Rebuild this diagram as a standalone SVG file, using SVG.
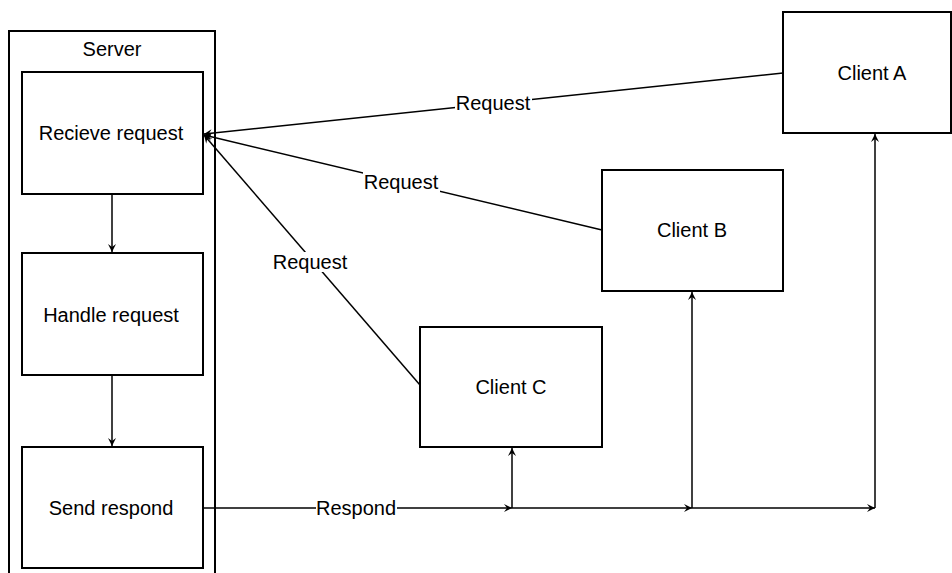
<svg xmlns="http://www.w3.org/2000/svg" width="952" height="573" viewBox="0 0 952 573">
<style>
.box{fill:#fff;stroke:#000;stroke-width:2}
.ln{fill:none;stroke:#000;stroke-width:1.5}
.t{font-family:"Liberation Sans",Arial,sans-serif;font-size:20px;fill:#000;text-anchor:middle;dominant-baseline:central}
.bg{fill:#fff}
</style>
<defs>
<marker id="ah" markerWidth="10" markerHeight="10" refX="9" refY="5" orient="auto" markerUnits="userSpaceOnUse">
<path d="M1,1 L9,5 L1,9 L4,5 Z" fill="#000"/>
</marker>
</defs>
<rect width="952" height="573" fill="#fff"/>
<g id="server">
<path class="box" d="M9,575 L9,31 L215,31 L215,575"/>
<text class="t" x="112" y="49">Server</text>
</g>
<g id="recieve"><rect class="box" x="22" y="72" width="181" height="122"/><text class="t" x="111" y="133">Recieve request</text></g>
<g id="handle"><rect class="box" x="22" y="253" width="181" height="122"/><text class="t" x="111" y="315">Handle request</text></g>
<g id="send"><rect class="box" x="22" y="447" width="181" height="121"/><text class="t" x="111" y="508">Send respond</text></g>
<g id="clientA"><rect class="box" x="783" y="12" width="168" height="121"/><text class="t" x="872" y="73">Client A</text></g>
<g id="clientB"><rect class="box" x="602" y="170" width="181" height="121"/><text class="t" x="692" y="230">Client B</text></g>
<g id="clientC"><rect class="box" x="420" y="327" width="182" height="120"/><text class="t" x="511" y="387">Client C</text></g>
<g id="connectors">
<line class="ln" x1="112" y1="194" x2="112" y2="252" marker-end="url(#ah)"/>
<line class="ln" x1="112" y1="375" x2="112" y2="446" marker-end="url(#ah)"/>
<line class="ln" x1="783" y1="73" x2="204" y2="134" marker-end="url(#ah)"/>
<line class="ln" x1="602" y1="230" x2="204" y2="135" marker-end="url(#ah)"/>
<line class="ln" x1="420" y1="385" x2="204" y2="135" marker-end="url(#ah)"/>
<line class="ln" x1="203" y1="508" x2="512" y2="508" marker-end="url(#ah)"/>
<line class="ln" x1="512" y1="508" x2="692" y2="508" marker-end="url(#ah)"/>
<line class="ln" x1="692" y1="508" x2="875" y2="508" marker-end="url(#ah)"/>
<line class="ln" x1="512" y1="508" x2="512" y2="448" marker-end="url(#ah)"/>
<line class="ln" x1="692" y1="508" x2="692" y2="292" marker-end="url(#ah)"/>
<line class="ln" x1="875" y1="508" x2="875" y2="134" marker-end="url(#ah)"/>
<rect class="bg" x="455" y="93" width="77" height="20"/>
<text class="t" x="493" y="103">Request</text>
<rect class="bg" x="363" y="172" width="77" height="20"/>
<text class="t" x="401" y="182">Request</text>
<rect class="bg" x="272" y="252" width="77" height="20"/>
<text class="t" x="310" y="262">Request</text>
<rect class="bg" x="316" y="498" width="81" height="20"/>
<text class="t" x="356" y="508">Respond</text>
</g>
</svg>
